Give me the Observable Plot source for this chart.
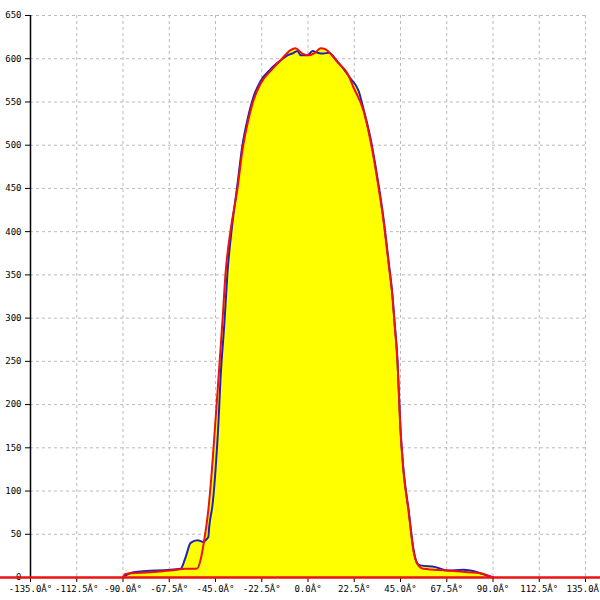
<!DOCTYPE html>
<html><head><meta charset="utf-8">
<script src="https://cdn.jsdelivr.net/npm/d3@7"></script>
<script src="https://cdn.jsdelivr.net/npm/@observablehq/plot@0.6"></script>
<style>body{margin:0;background:#fff}</style>
</head><body><div id="chart"></div>
<script>
const xTicks = [-135, -112.5, -90, -67.5, -45, -22.5, 0, 22.5, 45, 67.5, 90, 112.5, 135];
const yTicks = [0, 50, 100, 150, 200, 250, 300, 350, 400, 450, 500, 550, 600, 650];

const redAngle = [-90, -88.8, -76.6, -66.9, -59.6, -53.9, -52.3, -50.7, -48.4, -46.4, -45, -43.5, -41.6, -40.1, -37.7, -34.3, -31.9, -29.4, -26.5, -23.1, -18.2, -13.4, -8.5, -6.1, -2.7, 0.2, 3.6, 6.1, 8.5, 10.9, 14.3, 19.2, 22.1, 27, 30.4, 33.8, 36.7, 39.2, 41.1, 42.1, 43.5, 45, 46.4, 48.9, 51.3, 53.2, 56.2, 67.8, 77.5, 83.8, 90.1];
const redValue = [0, 4, 6, 8, 10, 10.5, 20, 40, 80, 135, 182, 232, 297, 352, 401, 450, 494, 525, 552, 571, 586, 598, 610, 612, 606, 604, 607, 612, 611, 606, 596, 583, 567, 540, 505, 459, 413, 363, 324, 294, 251, 170, 124, 77, 31, 16, 10, 8, 6, 5, 0];

const blueAngle = [-89.7, -84.9, -62, -59.6, -57.1, -53.7, -50.8, -49.9, -48.5, -48, -46.4, -45, -43.5, -42.6, -40.6, -39.2, -37.2, -34.3, -31.9, -29.4, -26.5, -23.1, -18.2, -13.4, -10, -7.6, -5.1, -3.6, -0.2, 2.2, 4.6, 7.5, 10, 14.3, 20.7, 24.6, 27, 30.4, 33.8, 36.7, 39.2, 41.1, 42.1, 43.5, 45, 46.4, 48.9, 51.3, 53.2, 54.7, 62, 67.8, 75.6, 79, 83.8, 90.1];
const blueValue = [1, 6, 10, 23, 40, 43, 41, 43, 47, 60, 85, 124, 182, 228, 297, 352, 401, 455, 500, 530, 556, 574, 588, 598, 604, 606, 609, 604, 604, 609, 607, 606, 607, 597, 577, 563, 542, 508, 462, 416, 366, 326, 296, 252, 172, 126, 79, 33, 16, 14, 12, 8, 9, 8, 5, 0];

const red = redAngle.map((a, i) => ({a, v: redValue[i]}));
const blue = blueAngle.map((a, i) => ({a, v: blueValue[i]}));

const font = "DejaVu Sans Mono, monospace";
const crv = "monotone-x";
const chart = Plot.plot({
  width: 600, height: 600,
  marginLeft: 30, marginRight: 15, marginTop: 15, marginBottom: 23,
  style: {fontFamily: font, fontSize: "9px", background: "#fff"},
  x: {domain: [-135, 135], label: null},
  y: {domain: [0, 650], label: null},
  marks: [
    Plot.gridX(xTicks, {stroke: "#bbb", strokeOpacity: 1, strokeDasharray: "3,3"}),
    Plot.gridY(yTicks, {stroke: "#bbb", strokeOpacity: 1, strokeDasharray: "3,3"}),
    Plot.areaY(blue, {x: "a", y: "v", fill: "#ffff00", curve: crv}),
    Plot.areaY(red, {x: "a", y: "v", fill: "#ffff00", curve: crv}),
    Plot.line(blue, {x: "a", y: "v", stroke: "#2222bb", strokeWidth: 2, curve: crv}),
    Plot.line(red, {x: "a", y: "v", stroke: "#ee1111", strokeWidth: 2, curve: crv}),
    Plot.ruleX([-135], {stroke: "#000", strokeWidth: 1.5}),
    Plot.axisY(yTicks, {tickSize: 5, tickPadding: 4, stroke: "#000", fill: "#000", label: null, tickFormat: d => String(d)}),
    Plot.axisX(xTicks, {tickSize: 5, tickPadding: 3, stroke: "#000", fill: "#000", label: null, tickFormat: d => d.toFixed(1) + "Â°"}),
    Plot.ruleY([0], {x1: -150, x2: 150, stroke: "#ee1111", strokeWidth: 2.5})
  ]
});
document.getElementById("chart").appendChild(chart);
</script></body></html>
